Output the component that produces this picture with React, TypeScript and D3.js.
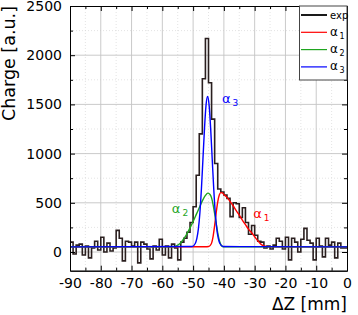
// App.tsx
// charge vs delta Z histogram with three fitted components
import React, { useEffect, useRef } from "react";
import * as d3 from "d3";

// histogram: lower bin edges in mm (1 mm bins) and measured charge
const binEdges = d3.range(-90, 0, 1);
const counts = [
  100, -20, 70, 80, -30, 60, -60, 40, 110, 20,
  150, 0, 90, 10, 40, 220, 140, -90, 110, 100,
  60, 100, -110, 100, 80, 30, -70, 60, 20, 130,
  -30, 60, -60, 80, 40, -80, 100, 140, 200, 300,
  460, 780, 1200, 1760, 2170, 1720, 1350, 900, 640, 610,
  580, 545, 360, 500, 490, 350, 450, 300, 180, 270,
  170, 110, 100, 40, 60, 30, 70, 140, 110, 30,
  150, -80, 140, 100, 0, 130, 240, 120, 90, -80,
  140, 60, -50, 140, 70, 100, -60, 90, 40, 40,
];

// fitted components: [mm, charge]
const alpha1: [number, number][] = [
  [-90, 52], [-46, 54], [-45, 56], [-44.5, 65], [-44, 90], [-43.5, 160], [-43, 270],
  [-42.5, 400], [-42, 510], [-41.5, 580], [-41, 603], [-40.5, 600], [-40, 585],
  [-39, 555], [-38, 515], [-37, 470], [-36, 420], [-35, 375], [-34, 325], [-33, 278],
  [-32, 232], [-31, 195], [-30, 155], [-29, 115], [-28, 80], [-27, 62], [-26, 55],
  [-25, 52], [0, 52],
];
const alpha2: [number, number][] = [
  [-90, 52], [-57, 52], [-56, 55], [-55, 70], [-54, 95], [-53, 135], [-52, 185],
  [-51, 245], [-50, 310], [-49, 380], [-48, 450], [-47, 520], [-46, 575], [-45.2, 598],
  [-44.5, 585], [-44, 550], [-43.5, 480], [-43, 390], [-42.5, 290], [-42, 195],
  [-41.5, 120], [-41, 75], [-40.5, 57], [-40, 52], [0, 52],
];
const alpha3: [number, number][] = [
  [-90, 52], [-50.3, 56], [-49.3, 86], [-48.8, 135], [-48.3, 232], [-47.8, 397],
  [-47.3, 642], [-46.8, 947], [-46.3, 1256], [-45.8, 1492], [-45.3, 1580],
  [-44.8, 1492], [-44.3, 1256], [-43.8, 947], [-43.3, 642], [-42.8, 397],
  [-42.3, 232], [-41.8, 135], [-41.3, 86], [-40.3, 56], [0, 52],
];

const xMajor = d3.range(-90, 1, 10);
const xMinor = d3.range(-85, 0, 10);
const yMajor = [0, 500, 1000, 1500, 2000, 2500];
const yMinor = [250, 750, 1250, 1750, 2250];

const components = [
  { name: "1", data: alpha1, color: "#ff0000", label: [-30.5, 345] },
  { name: "2", data: alpha2, color: "#1fa51f", label: [-56.9, 396] },
  { name: "3", data: alpha3, color: "#0000ff", label: [-40.6, 1515] },
];

export default function App() {
  const svgRef = useRef<SVGSVGElement>(null);

  useEffect(() => {
    if (!svgRef.current) return;
    const svg = d3.select(svgRef.current);
    svg.selectAll("*").remove();
    const font = "DejaVu Sans";
    const left = 70, right = 347, top = 6, bottom = 270.7;

    const x = d3.scaleLinear().domain([-90, 0]).range([left, right]);
    const y = d3.scaleLinear().domain([-190, 2500]).range([bottom, top]);

    // grid
    const grid = svg.append("g");
    grid.selectAll("line.vmin").data(xMinor).enter().append("line")
      .attr("x1", (d) => x(d)).attr("x2", (d) => x(d)).attr("y1", top).attr("y2", bottom)
      .attr("stroke", "#d9d9d9").attr("stroke-width", 0.7).attr("stroke-dasharray", "1,2");
    grid.selectAll("line.hmin").data(yMinor).enter().append("line")
      .attr("y1", (d) => y(d)).attr("y2", (d) => y(d)).attr("x1", left).attr("x2", right)
      .attr("stroke", "#d9d9d9").attr("stroke-width", 0.7).attr("stroke-dasharray", "1,2");
    grid.selectAll("line.vmaj").data(xMajor.slice(1, -1)).enter().append("line")
      .attr("x1", (d) => x(d)).attr("x2", (d) => x(d)).attr("y1", top).attr("y2", bottom)
      .attr("stroke", "#c4c4c4").attr("stroke-width", 0.9);
    grid.selectAll("line.hmaj").data(yMajor.slice(0, -1)).enter().append("line")
      .attr("y1", (d) => y(d)).attr("y2", (d) => y(d)).attr("x1", left).attr("x2", right)
      .attr("stroke", "#c4c4c4").attr("stroke-width", 0.9);

    // histogram as steps
    const steps: [number, number][] = binEdges.map((e, i) => [e, counts[i]]);
    steps.push([0, counts[counts.length - 1]]);
    const stepLine = d3.line<[number, number]>()
      .x((d) => x(d[0])).y((d) => y(d[1]))
      .curve(d3.curveStepAfter);
    svg.append("path").datum(steps)
      .attr("fill", "none").attr("stroke", "#2a1f1f").attr("stroke-width", 1.6)
      .attr("d", stepLine);

    // fitted curves
    const curve = d3.line<[number, number]>()
      .x((d) => x(d[0])).y((d) => y(d[1]))
      .curve(d3.curveMonotoneX);
    components.forEach((c) => {
      svg.append("path").datum(c.data)
        .attr("fill", "none").attr("stroke", c.color).attr("stroke-width", 1.4)
        .attr("d", curve);
      const t = svg.append("text")
        .attr("x", x(c.label[0])).attr("y", y(c.label[1]))
        .attr("font-family", font).attr("font-size", 13).attr("fill", c.color);
      t.append("tspan").text("α");
      t.append("tspan").attr("font-size", 9).attr("dx", 2).attr("dy", 3).text(c.name);
    });

    // axes and frame, ticks pointing inward
    const styleAxis = (g: any) => {
      g.attr("font-family", font).attr("font-size", 14);
      g.selectAll("path, line").attr("stroke", "#000").attr("stroke-width", 1);
      g.selectAll("text").attr("fill", "#000");
    };
    const plain = (d: any) => String(d);
    svg.append("g").attr("transform", `translate(0,${bottom})`)
      .call(d3.axisBottom(x).tickValues(xMajor).tickSizeInner(-5).tickSizeOuter(0).tickPadding(7).tickFormat(plain))
      .call(styleAxis);
    svg.append("g").attr("transform", `translate(0,${bottom})`)
      .call(d3.axisBottom(x).tickValues(xMinor).tickSizeInner(-3).tickSizeOuter(0).tickFormat(() => ""))
      .call(styleAxis);
    svg.append("g").attr("transform", `translate(${left},0)`)
      .call(d3.axisLeft(y).tickValues(yMajor).tickSizeInner(-5).tickSizeOuter(0).tickPadding(8).tickFormat(plain))
      .call(styleAxis);
    svg.append("g").attr("transform", `translate(${left},0)`)
      .call(d3.axisLeft(y).tickValues(yMinor).tickSizeInner(-3).tickSizeOuter(0).tickFormat(() => ""))
      .call(styleAxis);
    svg.append("g").attr("transform", `translate(0,${top})`)
      .call(d3.axisTop(x).tickValues(xMajor).tickSizeInner(-5).tickSizeOuter(0).tickFormat(() => ""))
      .call(styleAxis);
    svg.append("g").attr("transform", `translate(0,${top})`)
      .call(d3.axisTop(x).tickValues(xMinor).tickSizeInner(-3).tickSizeOuter(0).tickFormat(() => ""))
      .call(styleAxis);
    svg.append("g").attr("transform", `translate(${right},0)`)
      .call(d3.axisRight(y).tickValues(yMajor).tickSizeInner(-5).tickSizeOuter(0).tickFormat(() => ""))
      .call(styleAxis);
    svg.append("g").attr("transform", `translate(${right},0)`)
      .call(d3.axisRight(y).tickValues(yMinor).tickSizeInner(-3).tickSizeOuter(0).tickFormat(() => ""))
      .call(styleAxis);

    // axis titles
    svg.append("text")
      .attr("transform", "translate(14.5,121) rotate(-90)")
      .attr("font-family", font).attr("font-size", 17.5).attr("fill", "#000")
      .text("Charge [a.u.]");
    svg.append("text")
      .attr("x", right).attr("y", 310).attr("text-anchor", "end")
      .attr("font-family", font).attr("font-size", 17).attr("fill", "#000")
      .text("ΔZ [mm]");

    // legend
    const lg = svg.append("g");
    lg.append("rect").attr("x", 299.5).attr("y", top).attr("width", right - 299.5).attr("height", 74)
      .attr("fill", "#fff").attr("stroke", "#444").attr("stroke-width", 1);
    const entries = [
      { name: "exp", color: "#000", w: 1.8 },
      ...components.map((c) => ({ name: c.name, color: c.color, w: 1.2 })),
    ];
    entries.forEach((e, i) => {
      const ly = 15 + i * 17.3;
      lg.append("line").attr("x1", 301).attr("x2", 327).attr("y1", ly).attr("y2", ly)
        .attr("stroke", e.color).attr("stroke-width", e.w);
      const t = lg.append("text").attr("x", 330).attr("y", ly + 3.5)
        .attr("font-family", font).attr("fill", "#000");
      if (e.name === "exp") {
        t.attr("font-size", 10).text("exp");
      } else {
        t.attr("font-size", 12).append("tspan").text("α");
        t.append("tspan").attr("font-size", 8).attr("dx", 1.5).attr("dy", 3).text(e.name);
      }
    });
  }, []);

  return (
    <div style={{ position: "fixed", left: 0, top: 0 }}>
      <svg ref={svgRef} width={358} height={315} style={{ background: "#fff", display: "block" }} />
    </div>
  );
}
